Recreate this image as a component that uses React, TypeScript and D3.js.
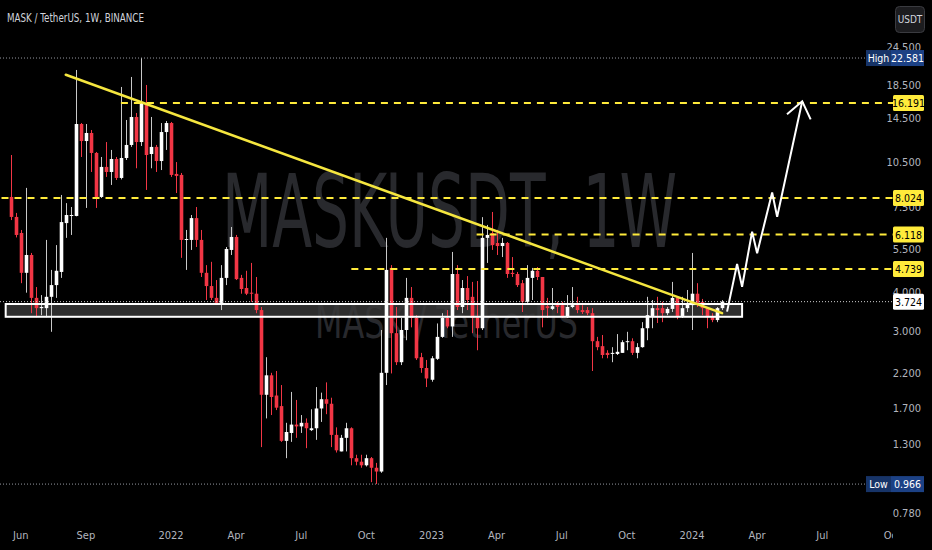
import * as d3 from "d3";

type Ohlc = [number, number, number, number]; // open, high, low, close

// weekly MASK/USDT candles, first one opens the week of 2021-05-24
const firstWeek = "2021-05-24";

const candles2021: Ohlc[] = [
  [8.08, 11.02, 6.81, 6.97], [6.97, 7.18, 5.99, 6.1], [6.19, 6.33, 4.27, 4.61], [4.61, 8.64, 3.98, 5.26],
  [5.26, 5.34, 3.42, 3.83], [3.83, 4.15, 3.32, 3.55], [3.55, 3.91, 3.37, 3.58], [3.55, 5.88, 3.32, 3.86],
  [3.86, 4.71, 2.98, 4.21], [4.21, 5.66, 3.83, 4.68], [4.64, 8.2, 4.44, 6.71], [6.66, 7.72, 5.97, 7.07],
  [7.02, 7.5, 6.1, 7.07], [7.02, 20.67, 7.0, 13.86], [13.86, 13.96, 10.86, 12.22], [12.22, 13.86, 7.45, 12.97],
  [12.97, 13.26, 9.72, 11.19], [11.19, 11.27, 7.45, 8.08], [8.08, 10.86, 8.02, 10.09], [10.09, 12.13, 9.37, 9.72],
  [9.72, 11.44, 8.83, 10.7], [10.7, 10.86, 9.16, 9.3], [9.3, 18.23, 9.2, 10.78], [10.78, 14.28, 10.62, 11.87],
  [11.87, 19.63, 11.7, 14.6], [14.6, 15.04, 9.99, 12.13], [12.13, 22.58, 11.78, 16.19], [16.19, 18.5, 8.51, 11.02],
  [11.1, 14.6, 9.99, 11.7], [11.7, 11.87, 9.72, 10.54], [10.54, 13.96, 9.86, 13.06], [13.06, 14.17, 11.44, 13.96]
];

const candles2022: Ohlc[] = [
  [13.96, 14.07, 9.37, 9.51], [9.58, 10.46, 8.32, 9.44], [9.51, 9.65, 5.15, 5.88], [5.88, 6.33, 4.71, 5.92],
  [5.88, 7.07, 5.46, 6.91], [6.91, 7.5, 5.58, 5.88], [5.88, 6.33, 4.47, 4.61], [4.61, 4.88, 3.77, 4.18],
  [4.18, 5.0, 3.77, 3.83], [3.83, 4.37, 3.68, 3.69], [3.69, 4.88, 3.5, 4.44], [4.44, 5.58, 4.21, 5.5],
  [5.46, 6.47, 5.26, 6.01], [6.01, 6.1, 4.37, 4.4], [4.44, 4.54, 3.95, 4.09], [4.12, 4.68, 3.91, 3.95],
  [3.98, 4.96, 3.72, 3.95], [3.95, 4.47, 3.42, 3.5], [3.5, 3.58, 1.27, 1.87], [1.87, 2.47, 1.57, 2.16],
  [2.16, 2.2, 1.61, 1.84], [1.86, 2.23, 1.67, 1.7], [1.72, 2.01, 1.32, 1.33], [1.33, 1.52, 1.17, 1.42],
  [1.41, 1.91, 1.32, 1.5], [1.5, 1.8, 1.36, 1.48], [1.48, 1.61, 1.41, 1.52], [1.52, 1.57, 1.26, 1.46],
  [1.44, 1.68, 1.43, 1.46], [1.46, 1.98, 1.34, 1.69], [1.69, 1.9, 1.53, 1.81], [1.81, 2.05, 1.62, 1.75],
  [1.75, 1.83, 1.27, 1.39], [1.39, 1.47, 1.22, 1.24], [1.23, 1.39, 1.23, 1.36], [1.36, 1.52, 1.23, 1.46],
  [1.46, 1.47, 1.11, 1.17], [1.17, 1.2, 1.11, 1.14], [1.14, 1.2, 1.09, 1.11], [1.11, 1.2, 1.1, 1.17],
  [1.17, 1.18, 0.98, 1.09], [1.09, 1.13, 0.966, 1.06], [1.06, 3.02, 1.05, 2.2], [2.2, 5.97, 2.01, 4.71],
  [4.78, 4.88, 2.19, 2.95], [2.95, 3.58, 2.33, 2.38], [2.38, 3.3, 2.33, 3.02], [3.02, 4.44, 2.8, 3.83],
  [3.83, 4.15, 3.08, 3.3], [3.3, 3.37, 2.42, 2.45], [2.47, 2.55, 2.2, 2.28], [2.28, 2.42, 1.98, 2.11]
];

const candles2023: Ohlc[] = [
  [2.09, 2.49, 2.06, 2.45], [2.44, 3.17, 2.42, 2.87], [2.87, 3.42, 2.85, 3.3], [3.3, 3.5, 3.06, 3.1],
  [3.1, 5.38, 2.87, 4.57], [4.57, 4.88, 3.5, 3.58], [3.58, 4.37, 3.42, 4.12], [4.12, 4.5, 3.5, 3.77],
  [3.86, 4.31, 2.95, 3.3], [3.32, 4.34, 2.6, 3.06], [3.06, 6.96, 3.02, 5.97], [5.97, 6.57, 4.96, 6.1],
  [6.19, 7.23, 5.46, 5.66], [5.75, 6.33, 5.26, 5.62], [5.62, 5.97, 5.18, 5.75], [5.75, 5.79, 4.44, 4.57],
  [4.61, 5.18, 4.47, 4.57], [4.57, 4.64, 4.15, 4.21], [4.27, 4.37, 3.45, 3.72], [3.72, 4.88, 3.69, 4.44],
  [4.44, 4.78, 3.77, 4.68], [4.68, 4.81, 4.37, 4.47], [4.47, 4.47, 3.08, 3.5], [3.6, 3.83, 3.3, 3.55],
  [3.53, 4.12, 3.5, 3.6], [3.66, 3.72, 3.42, 3.58], [3.63, 3.72, 3.3, 3.32], [3.32, 3.91, 3.3, 3.58],
  [3.58, 4.15, 3.55, 3.63], [3.63, 3.86, 3.42, 3.5], [3.5, 3.63, 3.4, 3.45], [3.5, 3.58, 3.37, 3.42],
  [3.42, 3.55, 2.23, 2.78], [2.78, 2.87, 2.6, 2.66], [2.68, 2.91, 2.45, 2.51], [2.55, 2.6, 2.45, 2.51],
  [2.53, 2.66, 2.38, 2.55], [2.53, 2.93, 2.51, 2.57], [2.55, 2.8, 2.55, 2.76], [2.76, 2.98, 2.6, 2.78],
  [2.78, 2.84, 2.51, 2.55], [2.55, 2.74, 2.45, 2.66], [2.66, 3.2, 2.65, 3.06], [3.06, 3.86, 2.8, 3.37],
  [3.35, 3.77, 3.06, 3.55], [3.55, 3.86, 3.18, 3.5], [3.55, 3.72, 3.2, 3.42], [3.42, 3.58, 3.37, 3.53],
  [3.53, 4.31, 3.45, 3.83], [3.83, 3.86, 3.27, 3.35], [3.35, 3.86, 3.3, 3.55], [3.55, 4.06, 3.45, 3.69]
];

const candles2024: Ohlc[] = [
  [3.63, 5.34, 3.02, 3.95], [3.95, 4.27, 3.58, 3.69], [3.72, 3.8, 3.37, 3.55], [3.55, 3.58, 3.06, 3.32],
  [3.35, 3.42, 3.2, 3.25], [3.25, 3.58, 3.2, 3.55], [3.55, 3.77, 3.5, 3.724]
];

const priceTicks = [24.5, 18.5, 14.5, 10.5, 7.5, 5.5, 4.0, 3.0, 2.2, 1.7, 1.3, 0.78];
const timeTicks: [string, string][] = [
  ["2021-06-07", "Jun"], ["2021-09-06", "Sep"], ["2022-01-03", "2022"], ["2022-04-04", "Apr"],
  ["2022-07-04", "Jul"], ["2022-10-03", "Oct"], ["2023-01-02", "2023"], ["2023-04-03", "Apr"],
  ["2023-07-03", "Jul"], ["2023-10-02", "Oct"], ["2024-01-01", "2024"], ["2024-04-01", "Apr"],
  ["2024-07-01", "Jul"], ["2024-10-07", "Oct"]
];

// drawn levels: price and the week they start from
const levelPrices = [16.191, 8.024, 6.118, 4.739];
const levelStarts = ["2021-10-25", "2021-01-04", "2023-03-06", "2022-09-12"];

const highPrice = 22.581;
const lowPrice = 0.966;
const lastPrice = 3.724;

const zoneWeeks = ["2021-05-17", "2024-03-11"];
const zonePrices = [3.66, 3.33];

const trendWeeks = ["2021-08-09", "2024-02-12"];
const trendPrices = [19.95, 3.42];

const arrowWeeks = ["2024-02-19", "2024-03-04", "2024-03-11", "2024-03-25", "2024-04-01", "2024-04-22", "2024-04-29", "2024-06-03"];
const arrowPrices = [3.46, 4.92, 4.16, 6.25, 5.33, 8.35, 6.98, 16.4];

const parseDay = d3.utcParse("%Y-%m-%d");
const day = (s: string) => parseDay(s) as Date;
const fmt = d3.format(".3f");

const font = "'Liberation Sans Narrow', 'DejaVu Sans Condensed', 'Liberation Sans', sans-serif";
const upColor = "#ffffff";
const downColor = "#f23645";
const levelColor = "#ffeb3b";
const axisText = "#b2b5be";

export default function App() {
  const width = 932;
  const height = 550;
  const paneRight = 893;
  const paneBottom = 520;

  const x = d3.scaleUtc([day("2022-01-03"), day("2024-01-01")], [171, 692]);
  const y = d3.scaleLog([0.78, 24.5], [513, 47]);

  const start = day(firstWeek);
  const candles = [...candles2021, ...candles2022, ...candles2023, ...candles2024].map((c, i) => ({
    date: d3.utcMonday.offset(start, i),
    open: c[0], high: c[1], low: c[2], close: c[3]
  }));
  const bodyWidth = 3.6;

  const arrowPts = arrowWeeks.map((w, i) => [x(day(w)), y(arrowPrices[i])] as [number, number]);
  const arrowLine = d3.line();
  const tip = arrowPts[arrowPts.length - 1];
  const prev = arrowPts[arrowPts.length - 2];
  const ang = Math.atan2(tip[1] - prev[1], tip[0] - prev[0]);
  const headLen = 20;
  const wing = (a: number): [number, number] => [tip[0] - headLen * Math.cos(ang + a), tip[1] - headLen * Math.sin(ang + a)];

  const zx0 = x(day(zoneWeeks[0]));
  const zx1 = x(day(zoneWeeks[1]));
  const zy0 = y(zonePrices[0]);
  const zy1 = y(zonePrices[1]);

  const priceTag = (price: number, fill: string, color: string, key: string) => (
    <g key={key}>
      <rect x={paneRight} y={y(price) - 8} width={31} height={16} rx={1.5} fill={fill} />
      <text x={paneRight + 15.5} y={y(price) + 4} textAnchor="middle" fontSize={10.5} fill={color} fontFamily={font}>
        {fmt(price)}
      </text>
    </g>
  );

  const extremeTag = (label: string, price: number) => (
    <g>
      <line x1={0} x2={866} y1={y(price)} y2={y(price)} stroke="#9598a1" strokeWidth={1} strokeDasharray="1 2" />
      <rect x={866} y={y(price) - 8} width={25} height={16} fill="#173468" />
      <rect x={891} y={y(price) - 8} width={33} height={16} fill="#1c4185" />
      <text x={878.5} y={y(price) + 4} textAnchor="middle" fontSize={10.5} fill="#ffffff" fontFamily={font}>{label}</text>
      <text x={907.5} y={y(price) + 4} textAnchor="middle" fontSize={10.5} fill="#ffffff" fontFamily={font}>{fmt(price)}</text>
    </g>
  );

  return (
    <svg width={width} height={height} viewBox={`0 0 ${width} ${height}`}
      style={{ position: "fixed", left: 0, top: 0, background: "#000000" }}>
      <defs>
        <clipPath id="pane-clip">
          <rect x={0} y={0} width={paneRight} height={paneBottom} />
        </clipPath>
        <clipPath id="time-clip">
          <rect x={0} y={paneBottom} width={paneRight} height={height - paneBottom} />
        </clipPath>
      </defs>
      <rect x={0} y={0} width={width} height={height} fill="#000000" />

      <g clipPath="url(#pane-clip)">
        {/* watermark */}
        <text x={449.5} y={247} textAnchor="middle" fontSize={102} fill="#28292d" fontFamily={font}
          textLength={455} lengthAdjust="spacingAndGlyphs">MASKUSDT, 1W</text>
        <text x={446.5} y={338} textAnchor="middle" fontSize={45} fill="#28292d" fontFamily={font}
          textLength={263} lengthAdjust="spacingAndGlyphs">MASK / TetherUS</text>

        {/* support zone fill */}
        <rect x={zx0} y={zy0} width={zx1 - zx0} height={zy1 - zy0} fill="#3a3a3a" fillOpacity={0.8} />

        {/* candles */}
        {candles.map((c) => {
          const cx = Math.round(x(c.date));
          const up = c.close >= c.open;
          const color = up ? upColor : downColor;
          const top = y(Math.max(c.open, c.close));
          const bottom = y(Math.min(c.open, c.close));
          return (
            <g key={c.date.toISOString()}>
              <line x1={cx + 0.5} x2={cx + 0.5} y1={y(c.high)} y2={y(c.low)} stroke={up ? "#c8c8c8" : downColor} strokeWidth={1} />
              <rect x={cx + 0.5 - bodyWidth / 2} y={top} width={bodyWidth} height={Math.max(1, bottom - top)} fill={color} />
            </g>
          );
        })}

        {/* support zone border */}
        <rect x={zx0} y={zy0} width={zx1 - zx0} height={zy1 - zy0} fill="none" stroke="#ffffff" strokeWidth={2} />

        {/* horizontal levels */}
        {levelPrices.map((p, i) => (
          <line key={p} x1={x(day(levelStarts[i]))} x2={paneRight} y1={y(p)} y2={y(p)}
            stroke={levelColor} strokeWidth={2} strokeDasharray="7 6" />
        ))}

        {/* last price */}
        <line x1={0} x2={paneRight} y1={y(lastPrice)} y2={y(lastPrice)} stroke="#d0d0d0" strokeWidth={1} strokeDasharray="1 2" />

        {/* trend line */}
        <line x1={x(day(trendWeeks[0]))} y1={y(trendPrices[0])} x2={x(day(trendWeeks[1]))} y2={y(trendPrices[1])}
          stroke="#f5e63f" strokeWidth={2.5} strokeLinecap="round" />

        {/* projected path */}
        <path d={arrowLine(arrowPts) ?? undefined} fill="none" stroke="#ffffff" strokeWidth={2} strokeLinejoin="miter" />
        <path d={arrowLine([wing(0.65), tip, wing(-0.65)]) ?? undefined} fill="none" stroke="#ffffff" strokeWidth={2} />
      </g>

      {/* price axis */}
      {priceTicks.map((t) => (
        <text key={t} x={921} y={y(t) + 4} textAnchor="end" fontSize={11} fill={axisText} fontFamily={font}>
          {fmt(t)}
        </text>
      ))}
      {extremeTag("High", highPrice)}
      {extremeTag("Low", lowPrice)}
      {levelPrices.map((p) => priceTag(p, levelColor, "#000000", `lvl-${p}`))}
      {priceTag(lastPrice, "#ffffff", "#000000", "last")}

      {/* time axis */}
      <g clipPath="url(#time-clip)">
        {timeTicks.map(([d, label]) => (
          <text key={d} x={x(day(d))} y={539} textAnchor="middle" fontSize={11} fill={axisText} fontFamily={font}>
            {label}
          </text>
        ))}
      </g>

      {/* title + currency button */}
      <text x={7} y={22} fontSize={12.5} fill="#d1d4dc" fontFamily={font} textLength={137} lengthAdjust="spacingAndGlyphs">
        MASK / TetherUS, 1W, BINANCE
      </text>
      <rect x={895.5} y={6.5} width={29} height={26} rx={4} fill="#1c1c1f" stroke="#3a3b40" />
      <text x={910} y={23} textAnchor="middle" fontSize={10} fill="#d1d4dc" fontFamily={font}>USDT</text>
    </svg>
  );
}
